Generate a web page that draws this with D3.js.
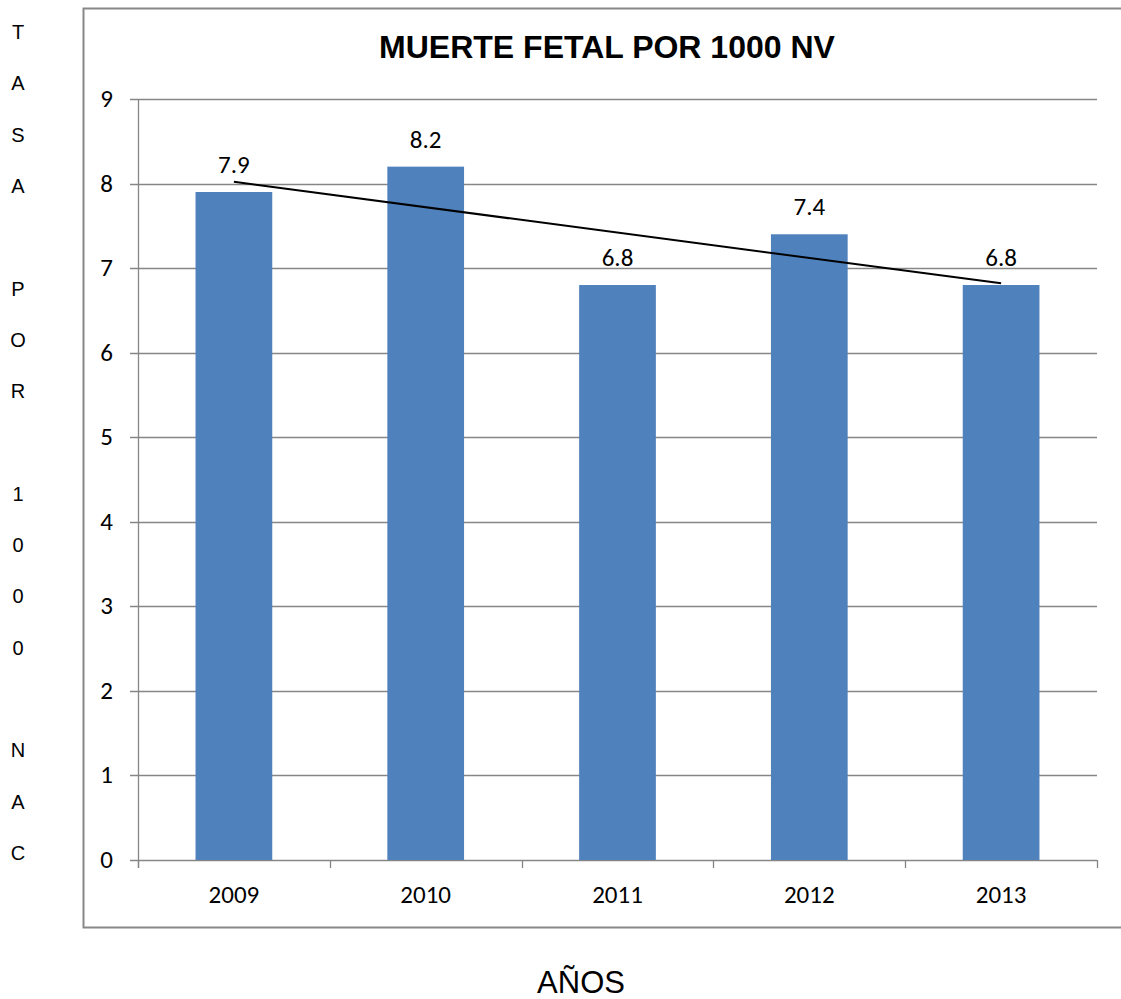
<!DOCTYPE html>
<html>
<head>
<meta charset="utf-8">
<script src="https://cdn.jsdelivr.net/npm/d3@7"></script>
<style>
  body { margin: 0; background: #fff; }
  svg { display: block; }
</style>
</head>
<body>
<div id="chart"></div>
<script>
// chart data
const years = ["2009", "2010", "2011", "2012", "2013"];
const rates = [7.9, 8.2, 6.8, 7.4, 6.8];
const yTicks = [0, 1, 2, 3, 4, 5, 6, 7, 8, 9];
const yTitleLines = ["T", "A", "S", "A", "", "P", "O", "R", "", "1", "0", "0", "0", "", "N", "A", "C"];

const width = 1121, height = 999;
const plot = { left: 138, right: 1097, top: 99, bottom: 860 };
const labelFont = "Carlito, Lato, 'Open Sans', sans-serif";

const svg = d3.select("#chart")
  .append("svg")
  .attr("width", width)
  .attr("height", height);

// outer chart frame
svg.append("rect")
  .attr("x", 83.5).attr("y", 8.5)
  .attr("width", 1100).attr("height", 919)
  .attr("fill", "none")
  .attr("stroke", "#888")
  .attr("stroke-width", 2);

const x = d3.scaleBand()
  .domain(years)
  .range([plot.left, plot.right])
  .paddingInner(0.6)
  .paddingOuter(0.3);

const xCat = d3.scaleBand().domain(years).range([plot.left, plot.right]);

const y = d3.scaleLinear().domain([0, 9]).range([plot.bottom, plot.top]);

// gridlines
svg.append("g")
  .selectAll("line")
  .data(yTicks)
  .enter()
  .append("line")
  .attr("x1", plot.left - 8)
  .attr("x2", plot.right)
  .attr("y1", (d) => Math.round(y(d)) + 0.5)
  .attr("y2", (d) => Math.round(y(d)) + 0.5)
  .attr("stroke", "#868686")
  .attr("stroke-width", 1.3);

// y axis line
svg.append("line")
  .attr("x1", plot.left + 0.5).attr("x2", plot.left + 0.5)
  .attr("y1", plot.top).attr("y2", plot.bottom + 8)
  .attr("stroke", "#868686")
  .attr("stroke-width", 1.3);

// y tick labels
svg.append("g")
  .selectAll("text")
  .data(yTicks)
  .enter()
  .append("text")
  .attr("x", 113)
  .attr("y", (d) => y(d) + 8)
  .attr("text-anchor", "end")
  .attr("font-family", labelFont)
  .attr("font-size", 25)
  .text((d) => d);

// x tick marks at category boundaries
const boundaries = years.map((d) => xCat(d)).concat([plot.right]);
svg.append("g")
  .selectAll("line")
  .data(boundaries)
  .enter()
  .append("line")
  .attr("x1", (d) => Math.round(d) + 0.5)
  .attr("x2", (d) => Math.round(d) + 0.5)
  .attr("y1", plot.bottom)
  .attr("y2", plot.bottom + 8)
  .attr("stroke", "#868686")
  .attr("stroke-width", 1.3);

// bars
svg.append("g")
  .selectAll("rect")
  .data(rates)
  .enter()
  .append("rect")
  .attr("x", (d, i) => x(years[i]))
  .attr("y", (d) => y(d))
  .attr("width", x.bandwidth())
  .attr("height", (d) => plot.bottom - y(d))
  .attr("fill", "#4F81BD");

// value labels
svg.append("g")
  .selectAll("text")
  .data(rates)
  .enter()
  .append("text")
  .attr("x", (d, i) => x(years[i]) + x.bandwidth() / 2)
  .attr("y", (d) => y(d) - 19)
  .attr("text-anchor", "middle")
  .attr("font-family", labelFont)
  .attr("font-size", 25)
  .text((d) => d.toFixed(1));

// x labels
svg.append("g")
  .selectAll("text")
  .data(years)
  .enter()
  .append("text")
  .attr("x", (d) => xCat(d) + xCat.bandwidth() / 2)
  .attr("y", 903)
  .attr("text-anchor", "middle")
  .attr("font-family", labelFont)
  .attr("font-size", 25)
  .text((d) => d);

// linear trendline (least squares on category index)
const n = rates.length;
const idx = d3.range(1, n + 1);
const mx = d3.mean(idx), my = d3.mean(rates);
const slope = d3.sum(idx, (v, i) => (v - mx) * (rates[i] - my)) / d3.sum(idx, (v) => (v - mx) * (v - mx));
const icpt = my - slope * mx;
const trend = years.map((d, i) => [x(d) + x.bandwidth() / 2, y(icpt + slope * (i + 1))]);
const first = trend[0], last = trend[n - 1];
svg.append("line")
  .attr("x1", first[0]).attr("y1", first[1])
  .attr("x2", last[0]).attr("y2", last[1])
  .attr("stroke", "#000")
  .attr("stroke-width", 2);

// title
svg.append("text")
  .attr("x", 607)
  .attr("y", 58)
  .attr("text-anchor", "middle")
  .attr("font-family", "'Liberation Sans', Arial, sans-serif")
  .attr("font-weight", "bold")
  .attr("font-size", 32)
  .text("MUERTE FETAL POR 1000 NV");

// vertical axis title, one character per line
svg.append("g")
  .selectAll("text")
  .data(yTitleLines)
  .enter()
  .append("text")
  .attr("x", 18)
  .attr("y", (d, i) => 39 + i * 51.3)
  .attr("text-anchor", "middle")
  .attr("font-family", "'Liberation Sans', Arial, sans-serif")
  .attr("font-size", 20)
  .text((d) => d);

// x axis title
svg.append("text")
  .attr("x", 581)
  .attr("y", 993)
  .attr("text-anchor", "middle")
  .attr("font-family", "'Liberation Sans', Arial, sans-serif")
  .attr("font-size", 31)
  .text("AÑOS");
</script>
</body>
</html>
